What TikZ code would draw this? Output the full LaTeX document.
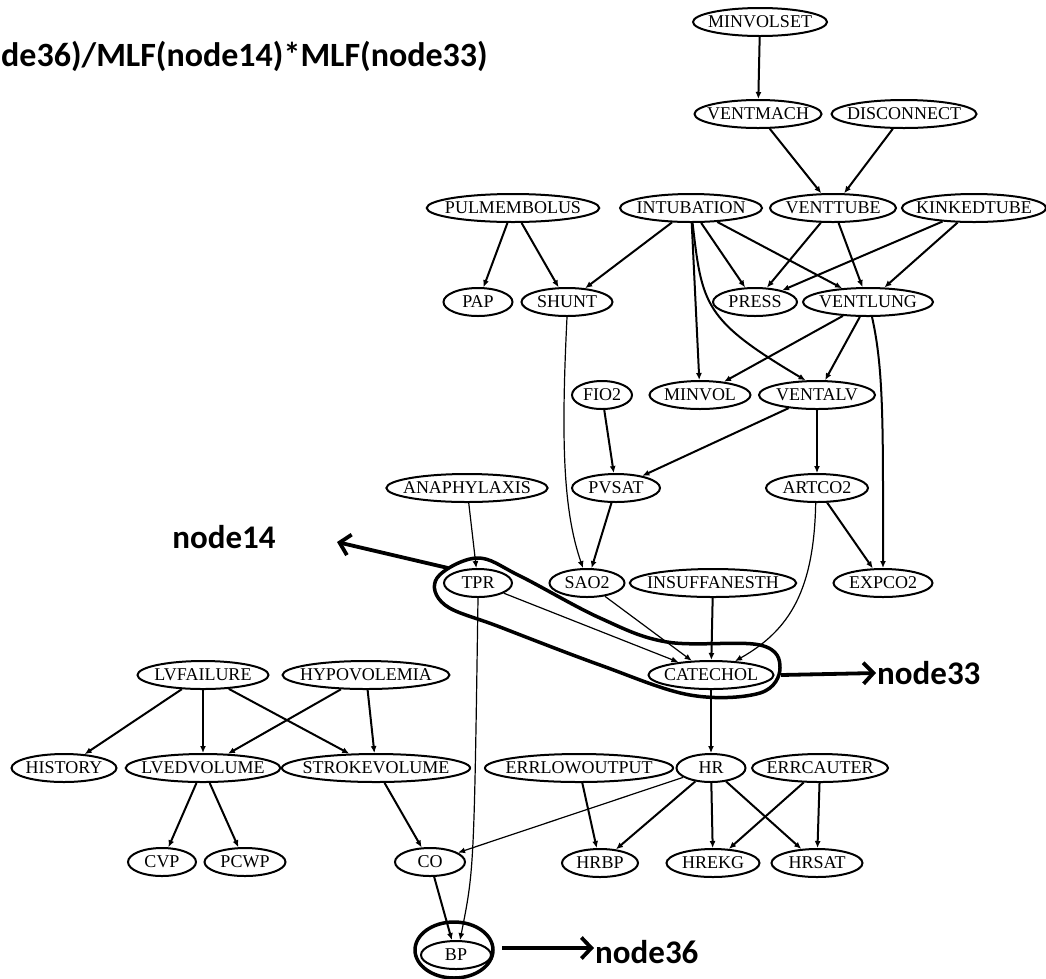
\documentclass[tikz,border=0pt]{standalone}
\usepackage{fontspec}
\setmainfont{Liberation Serif}
\newfontfamily\calib{Carlito}
\usetikzlibrary{shapes.geometric,arrows.meta}
\begin{document}
\begin{tikzpicture}[x=1pt,y=-1pt,
  nd/.style={ellipse,draw,line width=2pt,inner xsep=-7pt,inner ysep=0pt,minimum height=28pt,font=\fontsize{18}{18}\selectfont},
  ed/.style={line width=2pt,-{Latex[length=7pt,width=6pt]}},
  edt/.style={line width=1.2pt,-{Latex[length=7pt,width=6pt]}},
  ann/.style={line width=3.8pt,-{Straight Barb[length=10pt,width=21pt]}},
  hl/.style={line width=3.5pt},
  lbl/.style={font=\calib\bfseries\fontsize{33}{33}\selectfont,inner sep=1pt}
]
\useasboundingbox (0,0) rectangle (1046,978);

\node[lbl,anchor=west,font=\calib\bfseries\fontsize{34}{34}\selectfont] (title) at (0,56) {de36)/MLF(node14)*MLF(node33)};

% nodes
\node[nd,minimum width=134pt] (MINVOLSET) at (760,22) {MINVOLSET};
\node[nd,minimum width=127pt] (VENTMACH) at (758,114) {VENTMACH};
\node[nd,minimum width=145pt] (DISCONNECT) at (904,114) {DISCONNECT};
\node[nd,minimum width=166pt] (PULMEMBOLUS) at (513,208) {PULMEMBOLUS};
\node[nd,minimum width=142pt] (INTUBATION) at (691,208) {INTUBATION};
\node[nd,minimum width=126pt] (VENTTUBE) at (833,208) {VENTTUBE};
\node[nd,minimum width=142pt] (KINKEDTUBE) at (974,208) {KINKEDTUBE};
\node[nd,minimum width=69pt] (PAP) at (478,302) {PAP};
\node[nd,minimum width=91pt] (SHUNT) at (567,302) {SHUNT};
\node[nd,minimum width=84pt] (PRESS) at (755,302) {PRESS};
\node[nd,minimum width=130pt] (VENTLUNG) at (868,302) {VENTLUNG};
\node[nd,minimum width=60pt] (FIO2) at (602,395) {FIO2};
\node[nd,minimum width=101pt] (MINVOL) at (700,395) {MINVOL};
\node[nd,minimum width=116pt] (VENTALV) at (817,395) {VENTALV};
\node[nd,minimum width=157pt] (ANAPHYLAXIS) at (467,488) {ANAPHYLAXIS};
\node[nd,minimum width=88pt] (PVSAT) at (616,488) {PVSAT};
\node[nd,minimum width=102pt] (ARTCO2) at (817,488) {ARTCO2};
\node[nd,minimum width=68pt] (TPR) at (478,583) {TPR};
\node[nd,minimum width=75pt] (SAO2) at (587,583) {SAO2};
\node[nd,minimum width=161pt] (INSUFFANESTH) at (713,583) {INSUFFANESTH};
\node[nd,minimum width=99pt] (EXPCO2) at (883,583) {EXPCO2};
\node[nd,minimum width=131pt] (LVFAILURE) at (203,675) {LVFAILURE};
\node[nd,minimum width=161pt] (HYPOVOLEMIA) at (366,675) {HYPOVOLEMIA};
\node[nd,minimum width=125pt] (CATECHOL) at (711,675) {CATECHOL};
\node[nd,minimum width=105pt] (HISTORY) at (64,768) {HISTORY};
\node[nd,minimum width=153pt] (LVEDVOLUME) at (203,768) {LVEDVOLUME};
\node[nd,minimum width=177pt] (STROKEVOLUME) at (376,768) {STROKEVOLUME};
\node[nd,minimum width=176pt] (ERRLOWOUTPUT) at (579,768) {ERRLOWOUTPUT};
\node[nd,minimum width=69pt] (HR) at (711,768) {HR};
\node[nd,minimum width=136pt] (ERRCAUTER) at (820,768) {ERRCAUTER};
\node[nd,minimum width=68pt] (CVP) at (162,862) {CVP};
\node[nd,minimum width=81pt] (PCWP) at (245,862) {PCWP};
\node[nd,minimum width=70pt] (CO) at (430,862) {CO};
\node[nd,minimum width=76pt] (HRBP) at (600,863) {HRBP};
\node[nd,minimum width=93pt] (HREKG) at (713,863) {HREKG};
\node[nd,minimum width=91pt] (HRSAT) at (817,863) {HRSAT};
\node[nd,minimum width=70pt] (BP) at (456,955) {BP};

% edges
\draw[ed] (MINVOLSET) -- (VENTMACH);
\draw[ed] (VENTMACH) -- (VENTTUBE);
\draw[ed] (DISCONNECT) -- (VENTTUBE);
\draw[ed] (PULMEMBOLUS) -- (PAP);
\draw[ed] (PULMEMBOLUS) -- (SHUNT);
\draw[ed] (INTUBATION) -- (SHUNT);
\draw[ed] (INTUBATION) -- (PRESS);
\draw[ed] (INTUBATION) -- (VENTLUNG);
\draw[ed] (INTUBATION) -- (MINVOL);
\draw[ed] (INTUBATION.-84) .. controls (702,305) and (704,320) .. (VENTALV.128);
\draw[ed] (VENTTUBE) -- (PRESS);
\draw[ed] (VENTTUBE) -- (VENTLUNG);
\draw[ed] (KINKEDTUBE) -- (PRESS);
\draw[ed] (KINKEDTUBE) -- (VENTLUNG);
\draw[ed] (VENTLUNG) -- (MINVOL);
\draw[ed] (VENTLUNG) -- (VENTALV);
\draw[ed] (VENTLUNG.-75) .. controls (884,370) and (883,430) .. (EXPCO2.north);
\draw[edt] (SHUNT.south) .. controls (561,440) and (563,510) .. (SAO2.105);
\draw[ed] (FIO2) -- (PVSAT);
\draw[ed] (VENTALV) -- (PVSAT);
\draw[edt] (VENTALV) -- (ARTCO2);
\draw[ed] (PVSAT) -- (SAO2);
\draw[ed] (ARTCO2) -- (EXPCO2);
\draw[edt] (ARTCO2.-95) .. controls (814,590) and (790,630) .. (CATECHOL.30);
\draw[edt] (ANAPHYLAXIS) -- (TPR);
\draw[edt] (SAO2) -- (CATECHOL);
\draw[ed] (INSUFFANESTH) -- (CATECHOL);
\draw[edt] (TPR) -- (CATECHOL);
\draw[edt] (TPR.south) .. controls (474,870) .. (BP.75);
\draw[edt] (CATECHOL) -- (HR);
\draw[ed] (LVFAILURE) -- (HISTORY);
\draw[ed] (LVFAILURE) -- (LVEDVOLUME);
\draw[ed] (LVFAILURE) -- (STROKEVOLUME);
\draw[ed] (HYPOVOLEMIA) -- (LVEDVOLUME);
\draw[ed] (HYPOVOLEMIA) -- (STROKEVOLUME);
\draw[ed] (LVEDVOLUME) -- (CVP);
\draw[ed] (LVEDVOLUME) -- (PCWP);
\draw[ed] (STROKEVOLUME) -- (CO);
\draw[edt] (HR) -- (CO);
\draw[ed] (HR) -- (HRBP);
\draw[ed] (HR) -- (HREKG);
\draw[ed] (HR) -- (HRSAT);
\draw[ed] (ERRLOWOUTPUT) -- (HRBP);
\draw[ed] (ERRCAUTER) -- (HREKG);
\draw[ed] (ERRCAUTER) -- (HRSAT);
\draw[ed] (CO) -- (BP);

% highlight loop and circle
\draw[hl] plot[smooth cycle, tension=0.6] coordinates {(477,558) (520,576) (600,618) (667,642) (760,645) (780,668) (760,693) (690,695) (600,665) (500,627) (445,605) (437,578)};
\draw[hl] (454,950) ellipse [x radius=39, y radius=28];

% annotations
\coordinate (n14s) at (448,568);
\coordinate (n14e) at (337,542);
\node[lbl] (t14) at (224,537) {node14};
\draw[ann] (n14s) -- (n14e);

\coordinate (n33s) at (781,675);
\node[lbl,anchor=west] (t33) at (876,673) {node33};
\draw[ann] (n33s) -- (t33.west);

\coordinate (n36s) at (502,948);
\node[lbl,anchor=west] (t36) at (594,952) {node36};
\draw[ann] (n36s) -- (n36s -| t36.west);
\end{tikzpicture}
\end{document}
